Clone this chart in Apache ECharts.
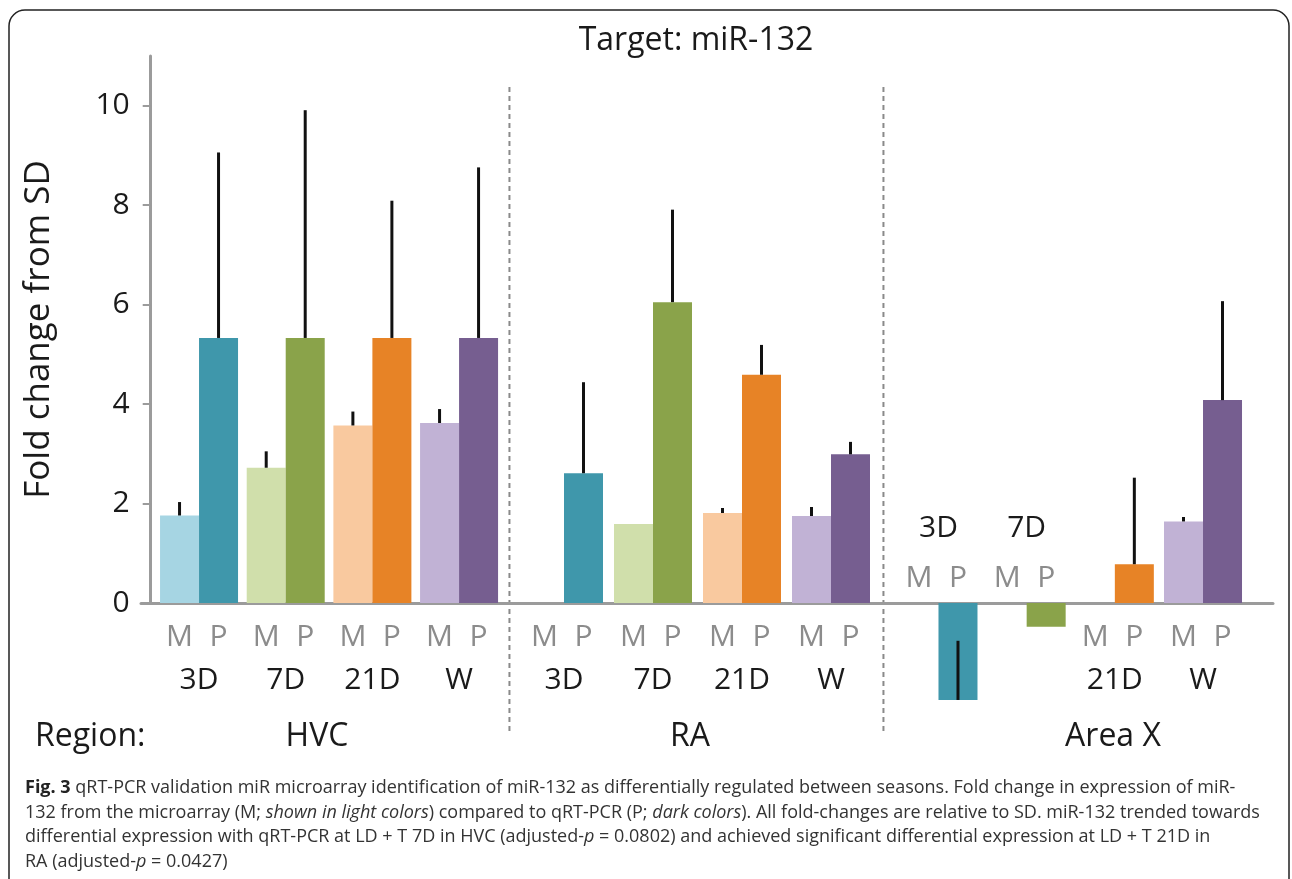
<!DOCTYPE html>
<html>
<head>
<meta charset="utf-8">
<title>Target: miR-132</title>
<script src="https://cdn.jsdelivr.net/npm/echarts@6/dist/echarts.min.js"></script>
<style>
  html, body { margin: 0; padding: 0; background: #ffffff; }
  #chart { width: 1292px; height: 879px; }
</style>
</head>
<body>
<div id="chart"></div>
<script>
// ---- data ----------------------------------------------------------------
const timepoints = ['3D', '7D', '21D', 'W'];
const regions = ['HVC', 'RA', 'Area X'];

// M = microarray (light colours), P = qRT-PCR (dark colours); *Err = whisker end
const hvcM     = [1.76, 2.72, 3.57, 3.62];
const hvcMErr  = [2.03, 3.05, 3.85, 3.90];
const hvcP     = [5.33, 5.33, 5.33, 5.33];
const hvcPErr  = [9.06, 9.91, 8.09, 8.76];

const raM      = [null, 1.59, 1.81, 1.75];
const raMErr   = [null, null, 1.91, 1.93];
const raP      = [2.61, 6.05, 4.59, 2.99];
const raPErr   = [4.44, 7.91, 5.19, 3.24];

const areaXM    = [null, null, null, 1.64];
const areaXMErr = [null, null, null, 1.73];
const areaXP    = [-1.95, -0.48, 0.78, 4.08];
const areaXPErr = [-0.76, null, 2.52, 6.07];

// Area X time points whose labels sit above the baseline
const labelsAbove = ['3D', '7D'];

const yTickLabels = [0, 2, 4, 6, 8, 10];
const yTickMarks = [2, 4, 6, 8, 10];

const lightColors = ['#a6d5e3', '#d0dfab', '#f9c99f', '#c1b2d5'];
const darkColors  = ['#3f97ab', '#8aa34a', '#e78326', '#765e90'];

// ---- layout ---------------------------------------------------------------
const FONT = 'Open Sans, Noto Sans, sans-serif';
const BAR_W = 39;
const GRID_TOP = 56;
const GRID_BOTTOM = 276;
const Y_MAX = 11;
const LABEL_GREY = '#8c8c8c';
const AXIS_GREY = '#9b9b9b';
const INK = '#1a1a1a';

const regionGrids = [
  { left: 155.7, width: 346.7 },
  { left: 519.5, width: 356.0 },
  { left: 894.4, width: 352.7 }
];

const chart = echarts.init(document.getElementById('chart'), null, { renderer: 'canvas' });

const mpRich = {
  m: { width: BAR_W, align: 'center', color: LABEL_GREY, fontSize: 30, fontFamily: FONT, lineHeight: 43 },
  p: { width: BAR_W, align: 'center', color: LABEL_GREY, fontSize: 30, fontFamily: FONT, lineHeight: 43 },
  t: { color: INK, fontSize: 30, fontFamily: FONT, lineHeight: 43 },
  m2: { width: BAR_W, align: 'center', color: LABEL_GREY, fontSize: 30, fontFamily: FONT, lineHeight: 50 },
  p2: { width: BAR_W, align: 'center', color: LABEL_GREY, fontSize: 30, fontFamily: FONT, lineHeight: 50 },
  t2: { color: INK, fontSize: 30, fontFamily: FONT, lineHeight: 50 }
};

const belowFmt = v => '{m|M}{p|P}\n{t|' + v + '}';
const aboveFmt = v => '{t2|' + v + '}\n{m2|M}{p2|P}';

function categoryAxis(gridIndex, formatter, extra) {
  return Object.assign({
    type: 'category',
    gridIndex: gridIndex,
    position: 'bottom',
    data: timepoints,
    boundaryGap: true,
    axisLine: { show: false, onZero: false },
    axisTick: { show: false },
    splitLine: { show: false },
    axisLabel: { interval: 0, margin: 12.5, formatter: formatter, rich: mpRich, align: 'center' }
  }, extra || {});
}

function hiddenY(gridIndex) {
  return {
    type: 'value', gridIndex: gridIndex, min: 0, max: Y_MAX, show: false,
    splitLine: { show: false }
  };
}

function barSeries(axisIdx, values, colors) {
  return {
    type: 'bar',
    xAxisIndex: axisIdx,
    yAxisIndex: axisIdx,
    barWidth: BAR_W,
    barGap: '0%',
    clip: false,
    z: 2,
    data: values.map((v, i) => v == null ? '-' : { value: v, itemStyle: { color: colors[i] } })
  };
}

function errorSeries(axisIdx, mVals, mErr, pVals, pErr) {
  const data = [];
  timepoints.forEach((t, i) => {
    if (mErr[i] != null) data.push([i, mVals[i], mErr[i], -1]);
    if (pErr[i] != null) data.push([i, pVals[i], pErr[i], 1]);
  });
  return {
    type: 'custom',
    xAxisIndex: axisIdx,
    yAxisIndex: axisIdx,
    clip: false,
    z: 5,
    encode: { x: 0, y: [1, 2] },
    data: data,
    renderItem: function (params, api) {
      const a = api.coord([api.value(0), api.value(1)]);
      const b = api.coord([api.value(0), api.value(2)]);
      const dx = api.value(3) * BAR_W / 2;
      return {
        type: 'line',
        shape: { x1: a[0] + dx, y1: a[1], x2: a[0] + dx, y2: b[1] },
        style: { stroke: '#111111', lineWidth: 3 }
      };
    }
  };
}

// separators halfway between neighbouring region grids
const sepX = [
  (regionGrids[0].left + regionGrids[0].width + regionGrids[1].left) / 2 - 1.5,
  (regionGrids[1].left + regionGrids[1].width + regionGrids[2].left) / 2 - 1.5
];

const captionLines = [
  '{b|Fig. 3} qRT-PCR validation miR microarray identification of miR-132 as differentially regulated between seasons. Fold change in expression of miR-',
  '132 from the microarray (M; {i|shown in light colors}) compared to qRT-PCR (P; {i|dark colors}). All fold-changes are relative to SD. miR-132 trended towards',
  'differential expression with qRT-PCR at LD + T 7D in HVC (adjusted-{i|p} = 0.0802) and achieved significant differential expression at LD + T 21D in',
  'RA (adjusted-{i|p} = 0.0427)'
];
const CAPTION_SIZE = 18;
const captionRich = {
  b: { fontWeight: 'bold', fontSize: CAPTION_SIZE, fontFamily: FONT, fill: '#222222' },
  i: { fontStyle: 'italic', fontSize: CAPTION_SIZE, fontFamily: FONT, fill: '#333333' }
};

const graphics = [
  {
    type: 'rect', silent: true,
    shape: { x: 9, y: 10, width: 1280, height: 900, r: 16 },
    style: { fill: 'none', stroke: '#222222', lineWidth: 1.5 }
  },
  {
    type: 'text', x: 696, y: 41,
    style: { text: 'Target: miR-132', font: '32px ' + FONT, fill: INK, textAlign: 'center', textVerticalAlign: 'middle' }
  },
  {
    type: 'text', x: 35, y: 737,
    style: { text: 'Region:', font: '32px ' + FONT, fill: INK, textAlign: 'left', textVerticalAlign: 'middle' }
  }
];
const regionLabelX = [317, 690, 1113];
regions.forEach((r, i) => {
  graphics.push({
    type: 'text', x: regionLabelX[i], y: 737,
    style: { text: r, font: '32px ' + FONT, fill: INK, textAlign: 'center', textVerticalAlign: 'middle' }
  });
});
sepX.forEach(x => {
  graphics.push({
    type: 'line', silent: true,
    shape: { x1: x, y1: 87, x2: x, y2: 733 },
    style: { stroke: '#8a8a8a', lineWidth: 2, lineDash: [5, 4] }
  });
});
captionLines.forEach((line, i) => {
  graphics.push({
    type: 'text', x: 25, y: 788 + i * 24.5,
    style: {
      text: line, rich: captionRich,
      font: CAPTION_SIZE + 'px ' + FONT, fill: '#333333',
      textAlign: 'left', textVerticalAlign: 'middle'
    }
  });
});

const option = {
  backgroundColor: '#ffffff',
  animation: false,
  textStyle: { fontFamily: FONT },
  grid: [
    { left: 141, right: 19, top: GRID_TOP, bottom: GRID_BOTTOM },
    { left: regionGrids[0].left, width: regionGrids[0].width, top: GRID_TOP, bottom: GRID_BOTTOM },
    { left: regionGrids[1].left, width: regionGrids[1].width, top: GRID_TOP, bottom: GRID_BOTTOM },
    { left: regionGrids[2].left, width: regionGrids[2].width, top: GRID_TOP, bottom: GRID_BOTTOM }
  ],
  xAxis: [
    {
      // shared baseline running under all three regions
      type: 'value', gridIndex: 0, min: 0, max: 1, position: 'bottom',
      axisLine: { show: true, onZero: false, lineStyle: { color: AXIS_GREY, width: 3 } },
      axisTick: { show: false }, axisLabel: { show: false }, splitLine: { show: false }
    },
    categoryAxis(1, belowFmt),
    categoryAxis(2, belowFmt),
    categoryAxis(3, v => labelsAbove.indexOf(v) >= 0 ? '' : belowFmt(v)),
    // second bottom axis of Area X, lifted so its labels sit above the baseline
    categoryAxis(3, null, {
      offset: -108,
      axisLabel: {
        interval: 0, margin: 8, align: 'center', rich: mpRich,
        formatter: v => labelsAbove.indexOf(v) >= 0 ? aboveFmt(v) : ''
      }
    })
  ],
  yAxis: [
    hiddenY(0),
    {
      type: 'value', gridIndex: 1, min: 0, max: Y_MAX, offset: 5,
      name: 'Fold change from SD',
      nameLocation: 'middle', nameGap: 94, nameRotate: 90,
      nameTextStyle: { fontSize: 35, color: INK, fontFamily: FONT },
      axisLine: { show: true, onZero: false, lineStyle: { color: AXIS_GREY, width: 3 } },
      axisTick: { show: true, inside: false, length: 8, customValues: yTickMarks, lineStyle: { color: AXIS_GREY, width: 2 } },
      axisLabel: { show: true, margin: 21, customValues: yTickLabels, fontSize: 30, color: INK, fontFamily: FONT },
      splitLine: { show: false }
    },
    hiddenY(2),
    hiddenY(3)
  ],
  series: [
    barSeries(1, hvcM, lightColors),
    barSeries(1, hvcP, darkColors),
    barSeries(2, raM, lightColors),
    barSeries(2, raP, darkColors),
    barSeries(3, areaXM, lightColors),
    barSeries(3, areaXP, darkColors),
    errorSeries(1, hvcM, hvcMErr, hvcP, hvcPErr),
    errorSeries(2, raM, raMErr, raP, raPErr),
    errorSeries(3, areaXM, areaXMErr, areaXP, areaXPErr)
  ],
  graphic: graphics
};

chart.setOption(option);
</script>
</body>
</html>
